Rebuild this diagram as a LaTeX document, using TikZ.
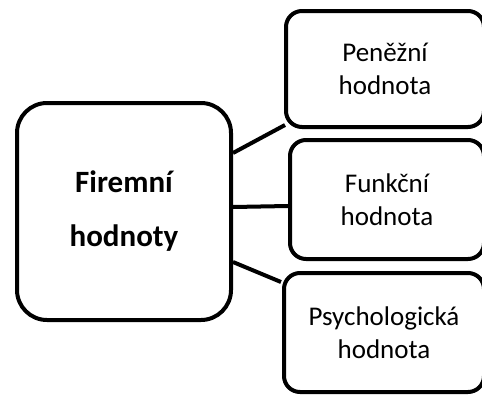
\documentclass[tikz,border=0pt]{standalone}
\usepackage{fontspec}
\setmainfont{Carlito}
\usepackage{tikz}
\usetikzlibrary{positioning, calc}

\begin{document}
\begin{tikzpicture}[x=1pt, y=-1pt,
    valbox/.style={draw, line width=4pt, rounded corners=16pt, align=center,
        inner sep=0pt, font=\fontsize{27}{33}\selectfont},
    mainbox/.style={draw, line width=4pt, rounded corners=30pt, align=center,
        inner sep=0pt, font=\fontsize{31}{54}\selectfont\bfseries},
    link/.style={line width=4pt},
    ]
\useasboundingbox (0,0) rectangle (482,394);

% Main box
\node[mainbox, minimum width=214pt, minimum height=217pt] (firm) at (124,211.5) {Firemní\\hodnoty};

% Value boxes on the right
\node[valbox, minimum width=198pt, minimum height=116pt] (money) at (385,69) {Peněžní\\hodnota};
\node[valbox, minimum width=194pt, minimum height=119pt] (func) at (387,199.5) {Funkční\\hodnota};
\node[valbox, minimum width=200pt, minimum height=119pt] (psych) at (384,332.5) {Psychologická\\hodnota};

% Links
\draw[link] ([yshift=58.5pt]firm.east) -- ([shift={(1pt,4pt)}]money.south west);
\draw[link] ([yshift=4.5pt]firm.east) -- ([yshift=-6.5pt]func.west);
\draw[link] ([yshift=-50.5pt]firm.east) -- ([shift={(-1pt,-11pt)}]psych.north west);
\end{tikzpicture}
\end{document}
